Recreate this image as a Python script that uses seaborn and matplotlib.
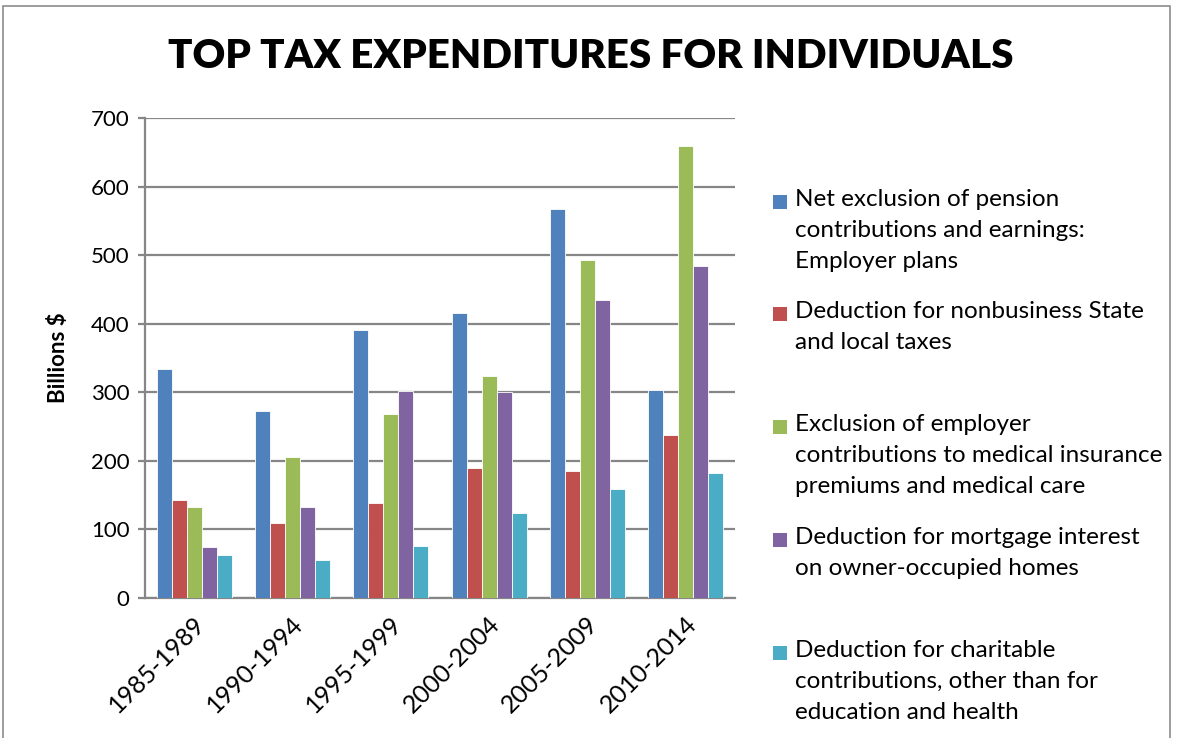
import matplotlib
matplotlib.use("Agg")
import matplotlib.pyplot as plt
from matplotlib.patches import Rectangle
from matplotlib.transforms import ScaledTranslation
import seaborn as sns
import pandas as pd

periods = ["1985-1989", "1990-1994", "1995-1999", "2000-2004", "2005-2009", "2010-2014"]
series_names = [
    "Net exclusion of pension\ncontributions and earnings:\nEmployer plans",
    "Deduction for nonbusiness State\nand local taxes",
    "Exclusion of employer\ncontributions to medical insurance\npremiums and medical care",
    "Deduction for mortgage interest\non owner-occupied homes",
    "Deduction for charitable\ncontributions, other than for\neducation and health",
]
pension = [334, 272, 391, 416, 568, 303]
state_local = [143, 109, 138, 190, 185, 237]
medical = [133, 205, 269, 324, 493, 659]
mortgage = [75, 133, 302, 301, 434, 484]
charitable = [62, 55, 76, 124, 159, 182]
palette = ["#4F81BD", "#C0504D", "#9BBB59", "#8064A2", "#4BACC6"]

values = [pension, state_local, medical, mortgage, charitable]
rows = []
for name, vals in zip(series_names, values):
    for p, v in zip(periods, vals):
        rows.append({"Period": p, "Series": name, "Value": v})
df = pd.DataFrame(rows)

sns.set_theme(style="white")
plt.rcParams["font.family"] = ["Lato", "DejaVu Sans"]
plt.rcParams["text.color"] = "black"

fig = plt.figure(figsize=(11.77, 7.38), dpi=100)
ax = fig.add_axes([145 / 1177, 1 - 598 / 738, 590 / 1177, 480 / 738])

sns.barplot(data=df, x="Period", y="Value", hue="Series", hue_order=series_names,
            order=periods, palette=palette, width=0.76, saturation=1,
            edgecolor="white", linewidth=0.6, legend=False, ax=ax, zorder=3)

grid_c = "#868686"
ax.set_ylim(0, 700)
ax.set_yticks(range(0, 701, 100))
ax.yaxis.grid(True, color=grid_c, linewidth=1.6, zorder=0)
ax.set_axisbelow(True)
for s in ["top", "right"]:
    ax.spines[s].set_visible(False)
for s in ["left", "bottom"]:
    ax.spines[s].set_color(grid_c)
    ax.spines[s].set_linewidth(1.6)
ax.tick_params(axis="y", length=5, width=1.6, color=grid_c, labelsize=16,
               labelcolor="black", pad=6, left=True)
ax.tick_params(axis="x", length=0, labelsize=18, labelcolor="black", pad=16)
ax.set_xlabel("")
ax.set_ylabel("Billions $", fontsize=16, fontweight="bold", labelpad=16, color="black")
shift = ScaledTranslation(5 / 72, 0, fig.dpi_scale_trans)
for lbl in ax.get_xticklabels():
    lbl.set_rotation(45)
    lbl.set_ha("right")
    lbl.set_va("center")
    lbl.set_rotation_mode("anchor")
    lbl.set_transform(lbl.get_transform() + shift)

fig.text(591 / 1177, 1 - 57 / 738, "TOP TAX EXPENDITURES FOR INDIVIDUALS",
         ha="center", va="center", fontsize=29, fontweight="heavy", color="black")

# legend drawn entry by entry, swatch aligned with the first line
entry_y = [202, 314, 427, 540, 653]
for name, col, y in zip(series_names, palette, entry_y):
    fig.patches.append(Rectangle((773 / 1177, 1 - (y + 7) / 738), 14 / 1177, 14 / 738,
                                 transform=fig.transFigure, facecolor=col,
                                 edgecolor="none"))
    fig.text(795 / 1177, 1 - (y - 13) / 738, name, ha="left", va="top",
             fontsize=17.5, linespacing=1.6)

# chart-area frame
fig.patches.append(Rectangle((3 / 1177, -0.05), 1167 / 1177, 1.05 - 6 / 738,
                             transform=fig.transFigure, facecolor="none",
                             edgecolor="#8c8c8c", linewidth=1.2))

fig.savefig("out.png", dpi=100)
